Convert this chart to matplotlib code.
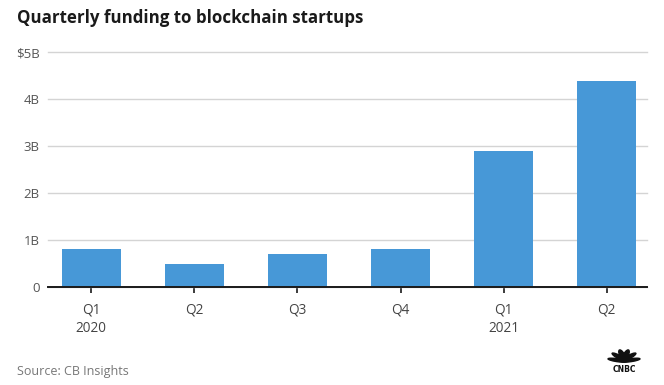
import matplotlib
matplotlib.use("Agg")
import matplotlib.pyplot as plt
from matplotlib.patches import Ellipse
import numpy as np

quarters = ["Q1\n2020", "Q2", "Q3", "Q4", "Q1\n2021", "Q2"]
funding_b = [0.82, 0.49, 0.71, 0.81, 2.9, 4.4]
ytick_vals = [0, 1, 2, 3, 4, 5]
ytick_labels = ["0", "1B", "2B", "3B", "4B", "$5B"]

W, H = 664, 385
fig = plt.figure(figsize=(W/100, H/100), dpi=100)
ax = fig.add_axes([48/W, 1-287/H, (647-48)/W, (287-52.5)/H])

x = np.arange(len(quarters))
ax.bar(x, funding_b, width=0.57, color="#4798d7", zorder=3)
ax.set_xlim(-0.42, 5.39)
ax.set_ylim(0, 5)
ax.set_yticks(ytick_vals)
ax.set_yticklabels(ytick_labels)
ax.set_xticks(x)
ax.set_xticklabels(quarters, linespacing=1.3)
ax.yaxis.grid(True, color="#d4d4d4", linewidth=1, zorder=0)
for gl in ax.yaxis.get_gridlines():
    gl.set_clip_on(False)
for s in ["left", "right", "top"]:
    ax.spines[s].set_visible(False)
ax.spines["bottom"].set_color("#1a1a1a")
ax.spines["bottom"].set_linewidth(1.4)
ax.spines["bottom"].set_zorder(4)
ax.tick_params(axis="y", length=0, pad=6, labelsize=9.5, labelcolor="#555555")
ax.tick_params(axis="x", length=4, width=1.2, color="#1a1a1a", pad=7, labelsize=9.8, labelcolor="#444444")
for t in ax.get_yticklabels() + ax.get_xticklabels():
    t.set_fontfamily("Open Sans")

fig.text(17/W, 1-18/H, "Quarterly funding to blockchain startups", fontsize=12.2,
         fontweight="bold", color="#1a1a1a", family="Open Sans", va="center", ha="left")
fig.text(17/W, 1-371/H, "Source: CB Insights", fontsize=9, color="#777777",
         family="Open Sans", va="center", ha="left")

# simple CNBC peacock mark
cx, cy = 624, 362
angles = [165, 135, 105, 75, 45, 15]
for a in angles:
    r = np.deg2rad(a)
    ex = cx + 7*np.cos(r)
    ey = cy - 7*np.sin(r)
    e = Ellipse((ex/W, 1-ey/H), width=5/W, height=11/H, angle=a-90,
                transform=fig.transFigure, color="#111111")
    fig.patches.append(e)
fig.text(cx/W, 1-369.5/H, "CNBC", fontsize=5.5, fontweight="bold", color="#111111",
         family="DejaVu Sans", ha="center", va="center")

fig.savefig("out.png", dpi=100)
